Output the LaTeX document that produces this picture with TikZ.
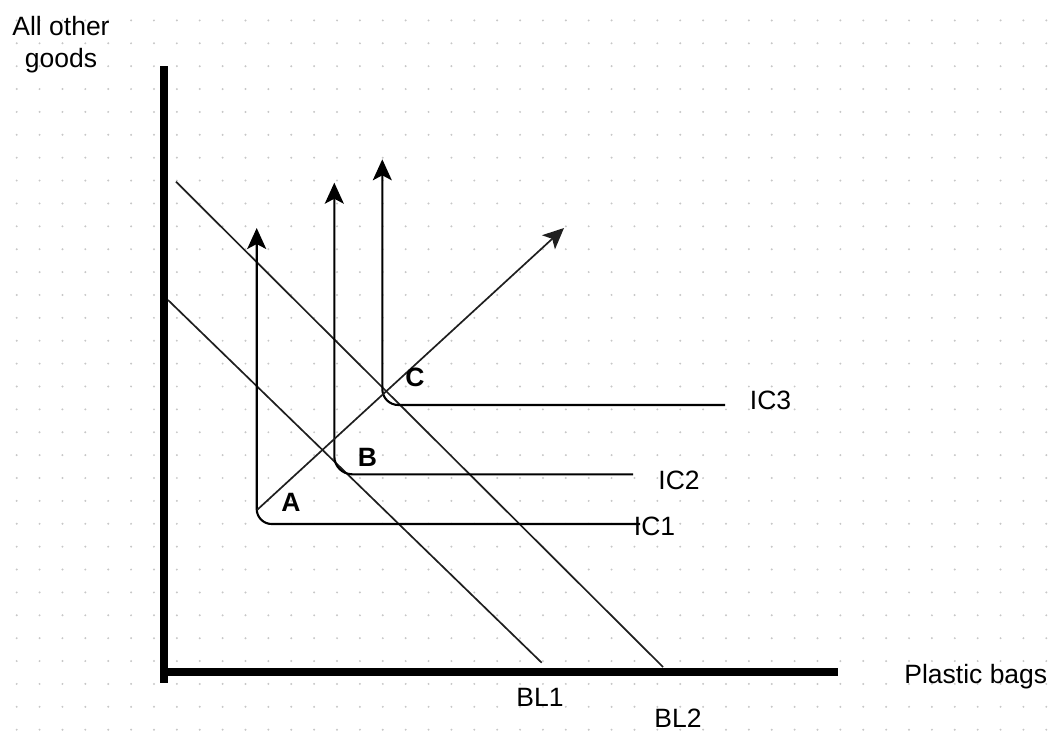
\documentclass[tikz,border=0pt]{standalone}
\usepackage{fontspec}
\setmainfont{Liberation Sans}
\usetikzlibrary{arrows.meta}
\begin{document}
\begin{tikzpicture}[x=1pt,y=-1pt,
  budget/.style={line width=1.7pt, draw=black!88},
  curve/.style={line width=2.1pt, draw=black},
  axis/.style={line width=8.5pt, draw=black},
  arrowhd/.style={-{Stealth[length=21pt,width=19pt,inset=5pt]}},
  lbl/.style={font=\fontsize{26.5}{30}\selectfont, inner sep=0pt, anchor=base},
  ptlbl/.style={font=\bfseries\fontsize{26.5}{30}\selectfont, inner sep=0pt, anchor=base}]
\useasboundingbox (0,0) rectangle (1051,732);
% grid dots
\foreach \i in {0,...,45}
  \foreach \j in {0,...,31}
    \fill[black!22] ({16.7+22.88*\i},{20.4+22.88*\j}) circle (1.1pt);
% axes
\coordinate (yTop) at (164,66);
\coordinate (yBot) at (164,683);
\coordinate (xL) at (160,672);
\coordinate (xR) at (838,672);
\draw[axis] (yTop) -- (yBot);
\draw[axis] (xL) -- (xR);
% budget lines
\coordinate (bl1s) at (168,300);
\coordinate (bl1e) at (541.7,662.7);
\coordinate (bl2s) at (176,181.7);
\coordinate (bl2e) at (663,667);
\draw[budget] (bl1s) -- (bl1e);
\draw[budget] (bl2s) -- (bl2e);
% indifference curves
\coordinate (t1) at (256.7,228);
\coordinate (c1) at (256.7,524);
\coordinate (e1) at (640,524);
\coordinate (t2) at (334.3,182.7);
\coordinate (c2) at (334.3,474.3);
\coordinate (e2) at (633,474.3);
\coordinate (t3) at (382.3,159.3);
\coordinate (c3) at (382.3,405);
\coordinate (e3) at (725,405);
\draw[curve, arrowhd, rounded corners=15pt] (e1) -- (c1) -- (t1);
\draw[curve, arrowhd, rounded corners=18pt] (e2) -- (c2) -- (t2);
\draw[curve, arrowhd, rounded corners=16pt] (e3) -- (c3) -- (t3);
% expansion path
\coordinate (d0) at (257,510);
\coordinate (d1) at (564,228);
\draw[budget, arrowhd] (d0) -- (d1);
% labels
\node[lbl] (ylab1) at (61,35) {All other};
\node[lbl] (ylab2) at (61,67) {goods};
\node[lbl] (xlab) at (975.8,683.3) {Plastic bags};
\node[lbl] (bl1) at (540,706.7) {BL1};
\node[lbl] (bl2) at (678,727.5) {BL2};
\node[lbl] (ic1) at (654.5,535) {IC1};
\node[lbl] (ic2) at (679,489.3) {IC2};
\node[lbl] (ic3) at (770.5,409.3) {IC3};
\node[ptlbl] (A) at (291,511.7) {A};
\node[ptlbl] (B) at (367.5,466) {B};
\node[ptlbl] (C) at (415,386) {C};
\end{tikzpicture}
\end{document}
